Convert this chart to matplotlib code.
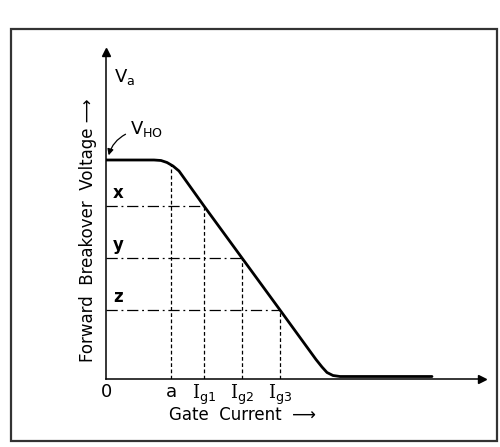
import matplotlib
matplotlib.use("Agg")
from matplotlib import pyplot as plt
from matplotlib.patches import Rectangle
import numpy as np

plt.rcParams['font.family'] = ['DejaVu Sans']
plt.rcParams['mathtext.fontset'] = 'dejavuserif'

# 曲线数据 (门极电流, 正向转折电压)
curve_x = [0, 48, 55, 61, 67, 73, 78, 98, 136, 174, 210, 216, 221, 227, 234, 326]
curve_y = [219, 219, 218.5, 216.5, 213, 208, 201, 173, 121, 69, 19.5, 12, 6.5, 3.5, 2.5, 2.5]

# 横轴刻度
tick_pos = [0, 65, 98, 136, 174]
tick_labels = ['0', 'a', r'$\mathrm{I}_{\mathsf{g1}}$', r'$\mathrm{I}_{\mathsf{g2}}$',
               r'$\mathrm{I}_{\mathsf{g3}}$']

# 电压水平 x, y, z 及对应门极电流
level_names = ['x', 'y', 'z']
level_vals = [173, 121, 69]
level_currents = [98, 136, 174]

fig = plt.figure(figsize=(5.0, 4.47), dpi=100)
ax = fig.add_axes([106 / 500, 1 - 379 / 447, 376 / 500, 327 / 447])
ax.set_xlim(0, 376)
ax.set_ylim(0, 327)

# 外框
fig.patches.append(Rectangle((11 / 500, 1 - 441 / 447), 486 / 500, 412 / 447,
                             transform=fig.transFigure, fill=False,
                             edgecolor='#333333', linewidth=1.6))

# 坐标轴
for s in ['top', 'right']:
    ax.spines[s].set_visible(False)
ax.spines['left'].set_linewidth(1.1)
ax.spines['bottom'].set_linewidth(1.1)
ax.plot(1, 0, '>k', markersize=6, transform=ax.transAxes, clip_on=False)
ax.plot(0, 1, '^k', markersize=6, transform=ax.transAxes, clip_on=False)

# 主曲线
ax.plot(curve_x, curve_y, color='black', linewidth=2.0, solid_capstyle='round')

# 虚线
a_top = np.interp(tick_pos[1], curve_x, curve_y)
ax.plot([tick_pos[1], tick_pos[1]], [0, a_top], color='black', linestyle=(0, (3, 2)), linewidth=0.9)
for lv, cur in zip(level_vals, level_currents):
    ax.plot([cur, cur], [0, lv], color='black', linestyle=(0, (3, 2)), linewidth=0.9)
    ax.plot([0, cur], [lv, lv], color='black', linestyle=(0, (9, 3, 1.5, 3)), linewidth=0.9)

for name, lv in zip(level_names, level_vals):
    ax.text(7, lv + 4, name, fontsize=12, fontweight='bold', ha='left', va='bottom')

ax.set_xticks(tick_pos)
ax.set_xticklabels(tick_labels, fontsize=13)
ax.tick_params(axis='x', length=0, pad=3)
ax.set_yticks([])

ax.text(8, 302, r'$\mathsf{V}_{\mathsf{a}}$', fontsize=13, ha='left', va='center')
ax.text(24, 250, r'$\mathsf{V}_{\mathsf{HO}}$', fontsize=13, ha='left', va='center')
ax.annotate('', xy=(2, 221), xytext=(22, 246),
            arrowprops=dict(arrowstyle='-|>', color='black', lw=0.9,
                            connectionstyle='arc3,rad=0.25', mutation_scale=9))

ax.text(0.364, -36 / 327, 'Gate  Current  \u27f6', transform=ax.transAxes,
        fontsize=12, ha='center', va='center')
ax.text(-18 / 376, 149 / 327, 'Forward  Breakover  Voltage \u27f6', transform=ax.transAxes,
        fontsize=12, ha='center', va='center', rotation=90)

fig.savefig('out.png', dpi=100)
